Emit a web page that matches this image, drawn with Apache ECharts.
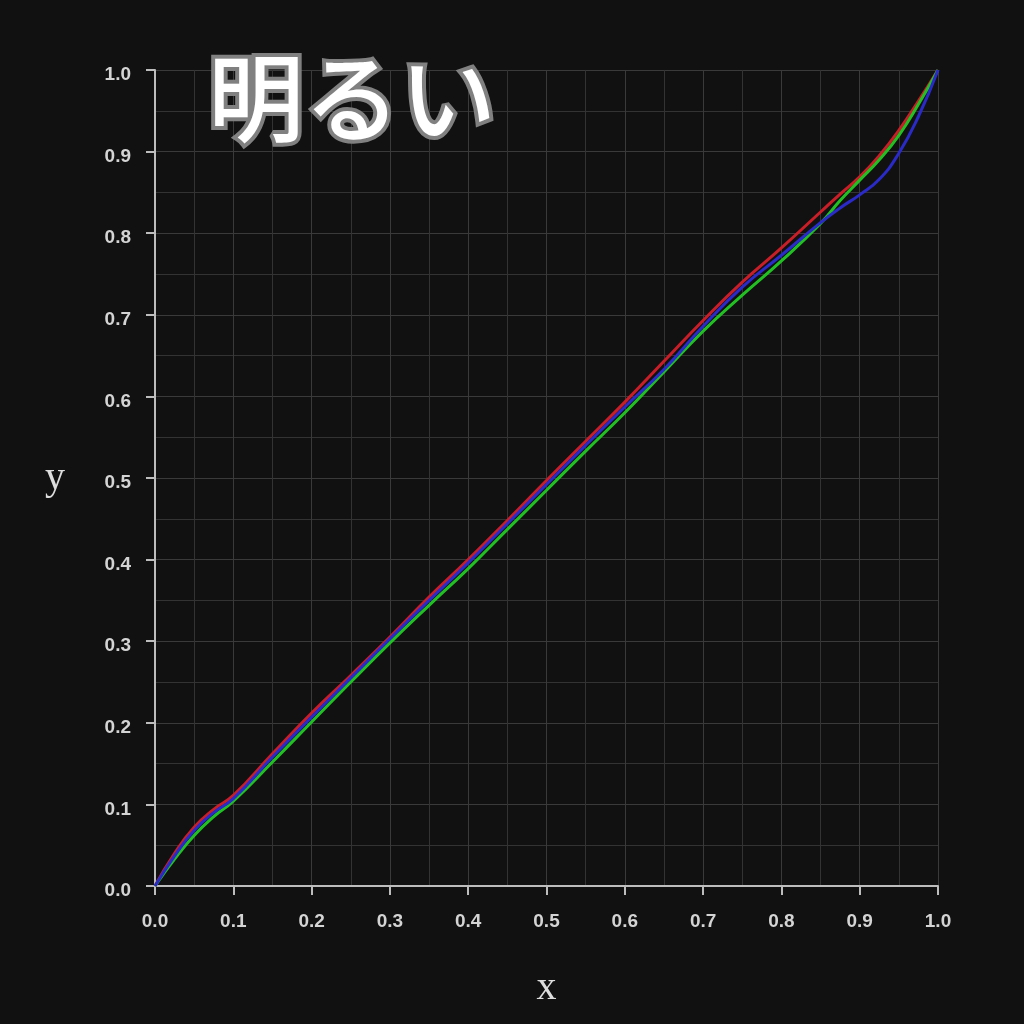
<!DOCTYPE html>
<html>
<head>
<meta charset="utf-8">
<script src="https://cdn.jsdelivr.net/npm/echarts@6/dist/echarts.min.js"></script>
<style>
html,body{margin:0;padding:0;background:#111111;}
#chart{width:1024px;height:1024px;}
</style>
</head>
<body>
<div id="chart"></div>
<script>
// 入力値 (x)
var xs = [0, 0.025, 0.05, 0.075, 0.1, 0.15, 0.2, 0.25, 0.3, 0.35, 0.4, 0.45, 0.5,
          0.55, 0.6, 0.65, 0.7, 0.75, 0.8, 0.85, 0.875, 0.9, 0.925, 0.95, 0.975, 1];
// 各チャンネルの出力値 (y)
var redValues = [0, 0.040, 0.072, 0.094, 0.111, 0.162, 0.212, 0.258, 0.305, 0.354, 0.400, 0.448, 0.497,
                 0.545, 0.593, 0.643, 0.693, 0.740, 0.782, 0.826, 0.848, 0.869, 0.895, 0.926, 0.962, 1];
var greenValues = [0, 0.033, 0.062, 0.085, 0.104, 0.152, 0.201, 0.250, 0.298, 0.344, 0.389, 0.437, 0.485,
                   0.533, 0.580, 0.630, 0.680, 0.724, 0.766, 0.812, 0.840, 0.865, 0.890, 0.920, 0.958, 1];
var blueValues = [0, 0.037, 0.068, 0.090, 0.107, 0.158, 0.207, 0.255, 0.303, 0.350, 0.396, 0.444, 0.492,
                  0.540, 0.587, 0.633, 0.686, 0.734, 0.773, 0.813, 0.831, 0.847, 0.866, 0.898, 0.943, 1];
var titleText = '明るい';

function pairs(vals){
    var out = [];
    xs.forEach(function(x, i){ out.push([x, vals[i]]); });
    return out;
}

var myChart = echarts.init(document.getElementById('chart'));

var axisCommon = {
    type: 'value',
    min: 0,
    max: 1,
    interval: 0.1,
    axisLine: { show: true, lineStyle: { color: '#bdbdbd', width: 2 } },
    axisTick: { show: true, length: 9, lineStyle: { color: '#bdbdbd', width: 2 } },
    splitLine: { show: true, lineStyle: { color: '#3a3a3a', width: 1 } },
    minorTick: { show: false, splitNumber: 2 },
    minorSplitLine: { show: true, lineStyle: { color: '#333333', width: 1 } },
    nameTextStyle: { fontFamily: 'Liberation Serif', fontSize: 40, color: '#dddddd' },
    nameLocation: 'middle'
};

function tickFmt(v){ return v.toFixed(1); }

var option = {
    backgroundColor: '#111111',
    animation: false,
    grid: { left: 155, right: 86, top: 70, bottom: 138 },
    graphic: [{
        type: 'text',
        left: 204,
        top: 46,
        z: 100,
        style: {
            text: titleText,
            fontFamily: 'Noto Sans CJK JP',
            fontWeight: 500,
            fontSize: 96,
            fill: '#ffffff',
            stroke: '#808080',
            lineWidth: 8
        }
    }],
    xAxis: Object.assign({}, axisCommon, {
        name: 'x',
        nameGap: 82,
        axisLabel: {
            margin: 26, color: '#d4d4d4', fontSize: 19, fontWeight: 'bold',
            fontFamily: 'Liberation Sans', formatter: tickFmt
        }
    }),
    yAxis: Object.assign({}, axisCommon, {
        name: 'y',
        nameGap: 90,
        nameRotate: 0,
        axisLabel: {
            margin: 24, color: '#d4d4d4', fontSize: 19, fontWeight: 'bold',
            fontFamily: 'Liberation Sans', lineHeight: 30, verticalAlign: 'top',
            padding: [-10, 0, 0, 0], formatter: tickFmt
        }
    }),
    series: [
        { name: 'R', type: 'line', smooth: true, symbol: 'none', data: pairs(redValues),
          lineStyle: { color: '#c81e28', width: 3 } },
        { name: 'G', type: 'line', smooth: true, symbol: 'none', data: pairs(greenValues),
          lineStyle: { color: '#22c022', width: 3 } },
        { name: 'B', type: 'line', smooth: true, symbol: 'none', data: pairs(blueValues),
          lineStyle: { color: '#2a2ac8', width: 3 } }
    ]
};

myChart.setOption(option);
</script>
</body>
</html>
